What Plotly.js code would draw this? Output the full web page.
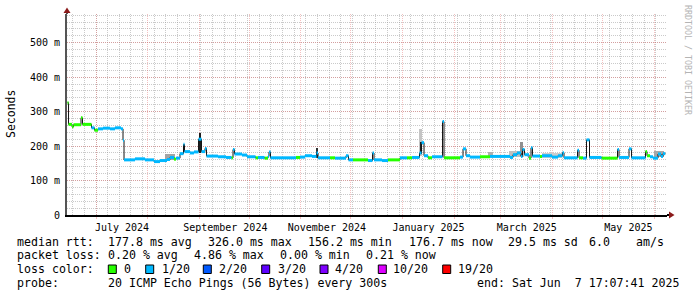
<!DOCTYPE html>
<html><head><meta charset="utf-8">
<script src="https://cdn.plot.ly/plotly-3.0.1.min.js"></script>
<style>html,body{margin:0;padding:0;background:#fff;} #chart{width:697px;height:297px;}</style>
</head><body><div id="chart"></div>
<script>
// ---------------- DATA ----------------
// median RTT breakpoints (ms) and loss class index (0 = 0/20, 1 = 1/20 ...)
const medianDates = [
 '2024-06-13 21:30','2024-06-14 12:00','2024-06-16 14:00','2024-06-17 12:00','2024-06-21 23:45','2024-06-22 21:30',
 '2024-06-28 07:00','2024-06-30 02:00','2024-07-02 05:00','2024-07-05 05:00','2024-07-09 10:00','2024-07-12 10:00',
 '2024-07-16 00:00','2024-07-17 05:00','2024-07-17 19:30','2024-07-24 10:00','2024-07-30 10:00','2024-08-04 20:00',
 '2024-08-08 10:00','2024-08-12 15:00','2024-08-14 10:00','2024-08-16 20:00','2024-08-18 00:45','2024-08-20 10:00',
 '2024-08-22 12:45','2024-08-23 03:00','2024-08-26 10:00','2024-08-28 20:00','2024-08-31 13:00','2024-09-02 08:00',
 '2024-09-04 10:30','2024-09-05 08:00','2024-09-12 05:45','2024-09-17 01:00','2024-09-20 08:00','2024-09-21 06:00',
 '2024-09-22 03:30','2024-09-26 15:30','2024-09-29 15:30','2024-10-04 18:00','2024-10-06 06:00','2024-10-10 04:00',
 '2024-10-12 06:00','2024-10-12 20:40','2024-10-13 18:00','2024-10-22 11:00','2024-10-29 01:40','2024-10-31 11:00',
 '2024-11-03 11:00','2024-11-07 16:00','2024-11-10 09:00','2024-11-11 06:45','2024-11-18 11:30','2024-11-21 11:30',
 '2024-11-28 02:00','2024-11-29 14:00','2024-12-02 07:00','2024-12-11 07:00','2024-12-13 23:45','2024-12-14 21:20',
 '2024-12-19 17:00','2024-12-23 07:00','2024-12-30 12:00','2025-01-03 17:00','2025-01-06 17:00','2025-01-11 05:00',
 '2025-01-12 10:00','2025-01-13 22:00','2025-01-16 07:30','2025-01-18 17:00','2025-01-25 00:30','2025-01-25 22:00',
 '2025-02-04 12:45','2025-02-06 08:00','2025-02-08 03:00','2025-02-10 12:45','2025-02-16 12:45','2025-02-22 13:00',
 '2025-03-06 13:00','2025-03-08 08:00','2025-03-10 18:00','2025-03-13 03:30','2025-03-14 01:00','2025-03-15 06:00',
 '2025-03-17 23:00','2025-03-19 03:30','2025-03-20 01:00','2025-03-24 13:30','2025-03-25 18:00','2025-03-31 18:00',
 '2025-04-04 09:00','2025-04-07 01:40','2025-04-07 23:00','2025-04-16 01:40','2025-04-16 23:15','2025-04-19 09:00',
 '2025-04-21 11:15','2025-04-23 06:30','2025-04-30 11:30','2025-05-10 02:00','2025-05-10 23:30','2025-05-16 23:30',
 '2025-05-18 11:45','2025-05-26 21:20','2025-05-27 19:00','2025-05-29 14:10','2025-05-31 09:20','2025-06-03 09:20',
 '2025-06-05 04:30','2025-06-06 09:30','2025-06-07 17:07'
];
const medianMs = [
 326,263,256,262,282,263,
 253,246,250,252,250,253,
 250,217,160,163,160,155,
 158,161,167,162,165,178,
 205,184,180,183,220,184,
 193,171,169,167,166,190,
 177,174,169,166,167,165,
 170,183,166,166,167,168,
 172,170,180,166,166,165,
 172,160,160,158,180,160,
 158,160,166,166,167,180,
 210,172,166,169,271,166,
 168,192,172,168,169,170,
 167,175,180,170,190,175,
 165,195,171,170,172,168,
 172,181,166,188,166,165,
 218,167,165,190,167,192,
 166,184,172,169,165,177,
 170,178,176.7
];
const medianLoss = [
 0,0,0,0,0,0,
 1,0,1,1,1,1,
 1,1,1,1,1,1,
 1,1,1,0,1,1,
 1,1,1,1,1,1,
 1,1,1,1,0,1,
 1,1,1,0,1,0,
 1,1,1,1,0,1,
 1,1,1,1,0,1,
 1,1,0,1,1,1,
 1,0,1,0,1,1,
 1,1,0,1,1,0,
 1,1,1,1,0,1,
 1,1,1,1,1,1,
 0,1,1,0,1,1,
 1,1,1,1,0,1,
 1,1,0,1,1,1,
 1,0,0,1,1,1,
 1,1,1
];
// smoke (spread of the individual pings), ms
const smokeDates  = ['2024-08-14 12:00','2024-09-01 10:00','2024-11-10 12:00','2025-01-12 00:00','2025-01-12 06:00','2025-02-23 00:00','2025-03-10 12:00','2025-03-13 12:00','2025-04-01 00:00','2025-06-04 00:00'];
const smokeLow    = [159,180,165,170,178,167,168,170,166,167];
const smokeHigh   = [176,239,193,249,213,183,186,213,180,186];
const smokeDays   = [6,1.3,1.2,1.6,1.0,3,9,2.0,12,6];
const smokeShade  = ['#a4a4a4','#1e1e1e','#303030','#c4c4c4','#202020','#b0b0b0','#c0c0c0','#909090','#cccccc','#a8a8a8'];

const lossLabels = ['0','1/20','2/20','3/20','4/20','10/20','19/20'];
const lossColors = ['#26ff00','#00b8ff','#0059ff','#5e00ff','#7e00ff','#dd00ff','#ff0000'];

const yTickVals = [0,100,200,300,400,500];
const yTickText = ['0','100 m','200 m','300 m','400 m','500 m'];
const monthTicks = ['2024-07-01','2024-08-01','2024-09-01','2024-10-01','2024-11-01','2024-12-01','2025-01-01','2025-02-01','2025-03-01','2025-04-01','2025-05-01','2025-06-01'];
const monthLabels = ['July 2024','','September 2024','','November 2024','','January 2025','','March 2025','','May 2025',''];

const rttStats  = ['177.8 ms avg','326.0 ms max','156.2 ms min','176.7 ms now','29.5 ms sd','6.0','am/s'];
const lossStats = ['0.20 % avg','4.86 % max','0.00 % min','0.21 % now'];
const probeText = '20 ICMP Echo Pings (56 Bytes) every 300s';
const endText = 'end: Sat Jun  7 17:07:41 2025';

// ---------------- LAYOUT HELPERS ----------------
const W = 697, H = 297, L = 67, R = 667, T = 14, B = 215;
const px = x => (x - L) / (R - L);
const py = y => (B - y) / (B - T);
const MONO = 'DejaVu Sans Mono';
const nb = s => s.replace(/ /g, '\u00A0');

const traces = [];
// smoke bars
traces.push({
  type: 'bar', x: smokeDates, base: smokeLow,
  y: smokeHigh.map((h, i) => h - smokeLow[i]),
  width: smokeDays.map(d => d * 86400000),
  marker: {color: smokeShade, line: {width: 0}},
  hoverinfo: 'skip'
});
// thin black step line (transitions)
traces.push({
  type: 'scatter', mode: 'lines', x: medianDates, y: medianMs,
  line: {shape: 'hv', color: '#141414', width: 1}, hoverinfo: 'skip'
});
// coloured median segments per loss class
lossColors.forEach((c, k) => {
  const xs = [], ys = [];
  for (let i = 0; i < medianDates.length - 1; i++) {
    if (medianLoss[i] === k) {
      xs.push(medianDates[i], medianDates[i + 1], null);
      ys.push(medianMs[i], medianMs[i], null);
    }
  }
  if (xs.length) traces.push({type: 'scatter', mode: 'lines', x: xs, y: ys,
    line: {color: c, width: 3}, connectgaps: false, hoverinfo: 'skip'});
});

const annotations = [];
const shapes = [];
function txt(x, y, s, opt) {
  annotations.push(Object.assign({xref: 'paper', yref: 'paper', x: px(x), y: py(y), xanchor: 'left', yanchor: 'middle',
    text: nb(s), showarrow: false, borderpad: 0, font: {family: MONO, size: 11.6, color: '#000'}}, opt || {}));
}
// legend rows
const r1 = 241.5, r2 = 255, r3 = 269, r4 = 282.5;
txt(16, r1, 'median rtt:');
[107.3, 207.3, 307.3, 407.7, 506.7, 588.3, 635].forEach((x, i) => txt(x, r1, rttStats[i]));
txt(16, r2, 'packet loss:');
[107.3, 193.3, 279.3, 365.3].forEach((x, i) => txt(x, r2, lossStats[i]));
txt(16, r3, 'loss color:');
const boxX = [108.3, 145.7, 203.3, 261.7, 320, 378.3, 442.7];
const labX = [123.3, 160.7, 218.3, 276.7, 334.3, 392.3, 456.7];
lossLabels.forEach((lab, i) => {
  shapes.push({type: 'rect', xref: 'paper', yref: 'paper', x0: px(boxX[i]), x1: px(boxX[i] + 8), y0: py(273.5), y1: py(265),
    fillcolor: lossColors[i], line: {color: '#000', width: 1}});
  txt(labX[i], r3, lab);
});
txt(16, r4, 'probe:');
txt(107.3, r4, probeText);
txt(680, r4, endText, {xanchor: 'right'});
// y title
annotations.push({xref: 'paper', yref: 'paper', x: px(11), y: py(114), xanchor: 'center', yanchor: 'middle',
  text: 'Seconds', textangle: -90, showarrow: false, font: {family: MONO, size: 11.5, color: '#000'}});
// watermark
annotations.push({xref: 'paper', yref: 'paper', x: px(688), y: py(60), xanchor: 'center', yanchor: 'middle',
  text: nb('RRDTOOL / TOBI OETIKER'), textangle: 90, showarrow: false, font: {family: MONO, size: 8.3, color: '#b4b4b4'}});
// axis arrows
shapes.push({type: 'line', xref: 'paper', yref: 'paper', x0: px(67), x1: px(67), y0: py(14), y1: py(11), line: {color: '#555', width: 2}});
shapes.push({type: 'path', xref: 'paper', yref: 'paper', path: `M ${px(63.5)} ${py(13)} L ${px(70.5)} ${py(13)} L ${px(67)} ${py(7.5)} Z`,
  fillcolor: '#8b1a1a', line: {width: 0}});
shapes.push({type: 'line', xref: 'paper', yref: 'paper', x0: px(667), x1: px(670), y0: py(215), y1: py(215), line: {color: '#000', width: 2}});
shapes.push({type: 'path', xref: 'paper', yref: 'paper', path: `M ${px(669)} ${py(211.5)} L ${px(669)} ${py(218.5)} L ${px(674.5)} ${py(215)} Z`,
  fillcolor: '#8b1a1a', line: {width: 0}});

const redGrid = 'rgba(225,90,90,0.38)';
const grayGrid = 'rgba(150,150,150,0.5)';
const layout = {
  width: W, height: H, margin: {l: L, r: W - R, t: T, b: H - B, pad: 0},
  paper_bgcolor: '#fff', plot_bgcolor: '#fff', showlegend: false, bargap: 0,
  font: {family: MONO, size: 10, color: '#000'},
  xaxis: {
    type: 'date', range: ['2024-06-13 14:00', '2025-06-08 19:00'], tickmode: 'array',
    tickvals: monthTicks, ticktext: monthLabels, ticklabelshift: 26, tickangle: 0,
    showgrid: true, gridcolor: redGrid, griddash: '1px,1px', gridwidth: 1,
    showline: true, linecolor: '#000', linewidth: 2, zeroline: false,
    ticks: 'outside', ticklen: 2, tickcolor: redGrid,
    tickfont: {family: MONO, size: 10, color: '#000'}, automargin: false, fixedrange: true,
    minor: {tickmode: 'linear', tick0: '2024-07-01', dtick: 7 * 86400000, showgrid: true, gridcolor: grayGrid, griddash: '1px,1px', gridwidth: 1, ticks: ''}
  },
  yaxis: {
    range: [0, 583.3], tickmode: 'array', tickvals: yTickVals, ticktext: yTickText,
    showgrid: true, gridcolor: redGrid, griddash: '1px,1px', gridwidth: 1,
    showline: true, linecolor: '#555', linewidth: 2, zeroline: false,
    ticks: 'outside', ticklen: 3, tickcolor: 'rgba(0,0,0,0)',
    tickfont: {family: MONO, size: 10, color: '#000'}, automargin: false, fixedrange: true,
    minor: {tickmode: 'linear', tick0: 0, dtick: 20, showgrid: true, gridcolor: grayGrid, griddash: '1px,1px', gridwidth: 1, ticks: ''}
  },
  annotations: annotations, shapes: shapes
};
Plotly.newPlot('chart', traces, layout, {staticPlot: true, displayModeBar: false});
</script>
</body></html>
